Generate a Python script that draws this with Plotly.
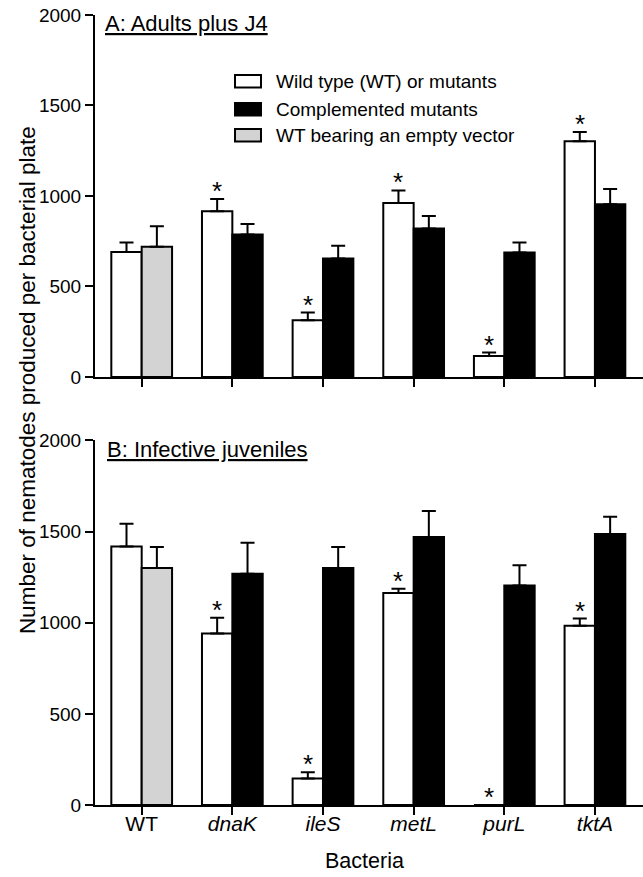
import plotly.graph_objects as go

# ---------------- data ----------------
categories = ["WT", "dnaK", "ileS", "metL", "purL", "tktA"]
tick_labels = ["WT", "<i>dnaK</i>", "<i>ileS</i>", "<i>metL</i>", "<i>purL</i>", "<i>tktA</i>"]

mutant_categories = ["dnaK", "ileS", "metL", "purL", "tktA"]
vector_categories = ["WT"]

# Panel A: Adults plus J4
a_wt_mut = [691, 916, 314, 961, 116, 1302]
a_wt_mut_err = [52, 67, 42, 70, 19, 52]
a_complemented = [787, 655, 821, 688, 955]
a_complemented_err = [58, 70, 68, 55, 83]
a_vector = [719]
a_vector_err = [114]
a_significant = [False, True, True, True, True, True]

# Panel B: Infective juveniles
b_wt_mut = [1419, 941, 146, 1163, 0, 983]
b_wt_mut_err = [124, 87, 33, 24, 0, 40]
b_complemented = [1269, 1300, 1470, 1204, 1487]
b_complemented_err = [170, 115, 143, 111, 95]
b_vector = [1300]
b_vector_err = [115]
b_significant = [False, True, True, True, True, True]

legend_labels = ["Wild type (WT) or mutants", "Complemented mutants", "WT bearing an empty vector"]
legend_colors = ["white", "black", "#d3d3d3"]
panel_titles = ["A: Adults plus J4", "B: Infective juveniles"]
y_title = "Number of nematodes produced per bacterial plate"
x_title = "Bacteria"

# ---------------- style ----------------
FONT = "Arial, 'Liberation Sans', Helvetica, sans-serif"
BW = 0.335
GRAY = "#d3d3d3"

fig = go.Figure()


def add_panel(xa, ya, wt, wt_err, comp, comp_err, vec, vec_err):
    common = dict(xaxis=xa, yaxis=ya, width=BW, showlegend=False, hoverinfo="skip",
                  marker_line=dict(color="black", width=2))
    err_style = dict(type="data", symmetric=False, color="black", thickness=2, width=7)
    fig.add_trace(go.Bar(x=categories, y=wt, offset=-BW, marker_color="white",
                         error_y=dict(array=wt_err, arrayminus=[0] * len(wt_err), **err_style),
                         **common))
    fig.add_trace(go.Bar(x=mutant_categories, y=comp, offset=0, marker_color="black",
                         error_y=dict(array=comp_err, arrayminus=[0] * len(comp_err), **err_style),
                         **common))
    fig.add_trace(go.Bar(x=vector_categories, y=vec, offset=0, marker_color=GRAY,
                         error_y=dict(array=vec_err, arrayminus=[0] * len(vec_err), **err_style),
                         **common))


add_panel("x", "y", a_wt_mut, a_wt_mut_err, a_complemented, a_complemented_err, a_vector, a_vector_err)
add_panel("x2", "y2", b_wt_mut, b_wt_mut_err, b_complemented, b_complemented_err, b_vector, b_vector_err)

annotations = []
for xref, yref, vals, errs, sig in [("x", "y", a_wt_mut, a_wt_mut_err, a_significant),
                                    ("x2", "y2", b_wt_mut, b_wt_mut_err, b_significant)]:
    for i, (v, e, s) in enumerate(zip(vals, errs, sig)):
        if s:
            annotations.append(dict(x=i - BW / 2, y=v + e, xref=xref, yref=yref, text="*",
                                    showarrow=False, yanchor="bottom", xanchor="center",
                                    yshift=-9, font=dict(size=26, color="black", family=FONT)))

# panel titles
annotations.append(dict(x=0.015, y=0.989, xref="paper", yref="paper", text="<u>" + panel_titles[0] + "</u>",
                        showarrow=False, xanchor="left", yanchor="middle",
                        font=dict(size=22, color="black", family=FONT)))
annotations.append(dict(x=0.018, y=0.450, xref="paper", yref="paper", text="<u>" + panel_titles[1] + "</u>",
                        showarrow=False, xanchor="left", yanchor="middle",
                        font=dict(size=22, color="black", family=FONT)))
# axis titles
annotations.append(dict(x=-0.122, y=0.538, xref="paper", yref="paper", text=y_title, textangle=-90,
                        showarrow=False, xanchor="center", yanchor="middle",
                        font=dict(size=22.5, color="black", family=FONT)))
annotations.append(dict(x=0.491, y=-0.0715, xref="paper", yref="paper", text=x_title,
                        showarrow=False, xanchor="center", yanchor="middle", borderpad=0,
                        font=dict(size=21.5, color="black", family=FONT)))

# custom legend
shapes = []
leg_x0, leg_x1, leg_tx = 0.2555, 0.3029, 0.3266
leg_rows = [0.9161, 0.8807, 0.8478]
for lab, col, yc in zip(legend_labels, legend_colors, leg_rows):
    shapes.append(dict(type="rect", xref="paper", yref="paper", x0=leg_x0, x1=leg_x1,
                       y0=yc - 0.0078, y1=yc + 0.0078, fillcolor=col, line=dict(color="black", width=2)))
    annotations.append(dict(x=leg_tx, y=yc, xref="paper", yref="paper", text=lab, showarrow=False,
                            xanchor="left", yanchor="middle", font=dict(size=19, color="black", family=FONT)))

axis_common = dict(showline=True, linecolor="black", linewidth=2, ticks="outside", ticklen=8,
                   tickwidth=2, tickcolor="black", showgrid=False, zeroline=False,
                   tickfont=dict(size=19, color="black", family=FONT))

fig.update_layout(
    width=643, height=877,
    margin=dict(l=95, r=0, t=15, b=72),
    plot_bgcolor="white", paper_bgcolor="white",
    barmode="overlay",
    font=dict(family=FONT, color="black"),
    xaxis=dict(domain=[0, 1], anchor="y", type="category", categoryorder="array",
               categoryarray=categories, range=[-0.515, 5.53], showticklabels=False,
               **axis_common),
    yaxis=dict(domain=[0.5418, 1], anchor="x", range=[0, 2000], tickvals=[0, 500, 1000, 1500, 2000],
               **axis_common),
    xaxis2=dict(domain=[0, 1], anchor="y2", type="category", categoryorder="array",
                categoryarray=categories, range=[-0.515, 5.53], tickvals=categories,
                ticktext=tick_labels, ticklabelstandoff=-9,
                **{**axis_common, "tickfont": dict(size=21, color="black", family=FONT)}),
    yaxis2=dict(domain=[0, 0.4614], anchor="x2", range=[0, 2000], tickvals=[0, 500, 1000, 1500, 2000],
                **axis_common),
    annotations=annotations,
    shapes=shapes,
)

fig.write_html("out.html")
